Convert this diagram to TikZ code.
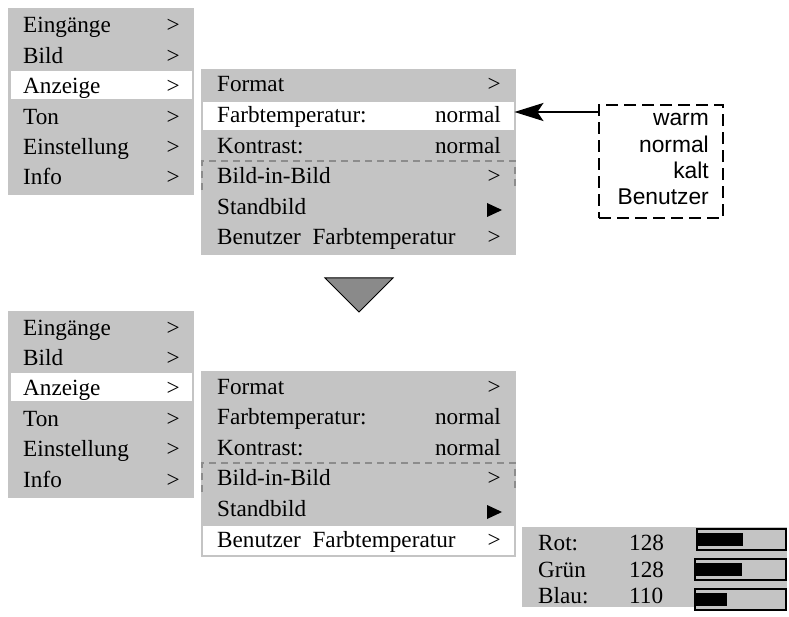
\documentclass[tikz,border=0pt]{standalone}
\usepackage{fontspec}
\setmainfont{Liberation Serif}
\setsansfont{Liberation Sans}
\usetikzlibrary{arrows.meta}
\definecolor{menugray}{RGB}{196,196,196}
\definecolor{sepgray}{RGB}{140,140,140}
\definecolor{trigray}{RGB}{138,138,138}
\newcommand{\mfont}{\fontsize{23.2}{27}\selectfont}
\newcommand{\sfont}{\sffamily\fontsize{22.8}{26.4}\selectfont}
\tikzset{
  menubox/.style={fill=menugray, draw=none, inner sep=0pt, anchor=north west},
  hlrow/.style={fill=white, draw=none, inner sep=0pt, anchor=north west},
  lbl/.style={anchor=base west, inner sep=0pt, font=\mfont},
  rlbl/.style={anchor=base east, inner sep=0pt, font=\mfont},
  sep/.style={draw=sepgray, line width=2pt, dash pattern=on 7pt off 5pt},
  optbox/.style={draw=black, line width=2.4pt, dash pattern=on 12pt off 6pt, inner sep=0pt, anchor=north west},
  barframe/.style={draw=black, line width=1.1pt, fill=menugray},
  barfill/.style={fill=black, draw=none},
  bigarrow/.style={line width=2.2pt, -{Stealth[length=29pt,width=18pt,inset=6pt]}}
}
\begin{document}
\begin{tikzpicture}[x=1pt,y=-1pt]
\useasboundingbox (0,0) rectangle (789,617);
% ---------- TOP ----------
\node[menubox, minimum width=186pt, minimum height=187pt] (mA) at (8,8) {};
\node[hlrow, minimum width=181pt, minimum height=28pt] (hA) at (11,71) {};
\foreach \t [count=\i from 0] in {Eingänge,Bild,Anzeige,Ton,Einstellung,Info}{
  \node[lbl] (la\i) at (23,33+30.4*\i) {\t};
  \node[rlbl] (ra\i) at (180,33+30.4*\i) {>};
}
\node[menubox, minimum width=315pt, minimum height=186pt] (mB) at (201,69) {};
\node[hlrow, minimum width=311pt, minimum height=28pt] (farb) at (203,102) {};
\node[lbl] (b0) at (217,92) {Format};
\node[rlbl] (b0r) at (501,92) {>};
\node[lbl] (b1) at (217,122.6) {Farbtemperatur:};
\node[rlbl] (b1r) at (501,122.6) {normal};
\node[lbl] (b2) at (217,153.2) {Kontrast:};
\node[rlbl] (b2r) at (501,153.2) {normal};
\node[lbl] (b3) at (217,183.8) {Bild-in-Bild};
\node[rlbl] (b3r) at (501,183.8) {>};
\node[lbl] (b4) at (217,214.4) {Standbild};
\fill (487,203) -- (487,217) -- (502,210) -- cycle;
\node[lbl] (b5) at (217,245) {Benutzer\ \ Farbtemperatur};
\node[rlbl] (b5r) at (501,245) {>};
\draw[sep] (202,190) -- (202,161) -- (515,161) -- (515,190);
% option box
\node[optbox, minimum width=124pt, minimum height=113pt] (opt) at (598,104) {};
\node[anchor=base east, inner sep=0pt, align=right, font=\sfont] (opttxt) at (709,205)
  {warm\\normal\\kalt\\Benutzer};
\draw[bigarrow] (opt.west |- 0,112) -- (farb.east |- 0,112);
% triangle
\draw[fill=trigray, line width=1pt, line join=miter] (325,278) -- (393,278) -- (359,312) -- cycle;
% ---------- BOTTOM ----------
\node[menubox, minimum width=186pt, minimum height=187pt] (mC) at (8,311) {};
\node[hlrow, minimum width=181pt, minimum height=28pt] (hC) at (11,373) {};
\foreach \t [count=\i from 0] in {Eingänge,Bild,Anzeige,Ton,Einstellung,Info}{
  \node[lbl] (lc\i) at (23,335+30.4*\i) {\t};
  \node[rlbl] (rc\i) at (180,335+30.4*\i) {>};
}
\node[menubox, minimum width=315pt, minimum height=186pt] (mD) at (201,371) {};
\node[hlrow, minimum width=311pt, minimum height=29pt] (benu) at (203,526) {};
\node[lbl] (d0) at (217,394) {Format};
\node[rlbl] (d0r) at (501,394) {>};
\node[lbl] (d1) at (217,424.6) {Farbtemperatur:};
\node[rlbl] (d1r) at (501,424.6) {normal};
\node[lbl] (d2) at (217,455.2) {Kontrast:};
\node[rlbl] (d2r) at (501,455.2) {normal};
\node[lbl] (d3) at (217,485.8) {Bild-in-Bild};
\node[rlbl] (d3r) at (501,485.8) {>};
\node[lbl] (d4) at (217,516.4) {Standbild};
\fill (487,505) -- (487,519) -- (502,512) -- cycle;
\node[lbl] (d5) at (217,547) {Benutzer\ \ Farbtemperatur};
\node[rlbl] (d5r) at (501,547) {>};
\draw[sep] (202,492) -- (202,463) -- (515,463) -- (515,492);
% RGB box
\node[menubox, minimum width=265pt, minimum height=80pt] (rgb) at (522,527) {};
\node[lbl] (rot) at (538,550) {Rot:};
\node[lbl] (rotv) at (629,550) {128};
\node[lbl] (gru) at (538,577) {Grün};
\node[lbl] (gruv) at (629,577) {128};
\node[lbl] (bla) at (538,603) {Blau:};
\node[lbl] (blav) at (629,603) {110};
\draw[barframe] (697,529) rectangle (786,550);
\fill[barfill] (697,533) rectangle (743,546);
\draw[barframe] (695,559) rectangle (786,580);
\fill[barfill] (695,563) rectangle (742,576);
\draw[barframe] (695,589) rectangle (786,610);
\fill[barfill] (695,593) rectangle (727,606);
\end{tikzpicture}
\end{document}
